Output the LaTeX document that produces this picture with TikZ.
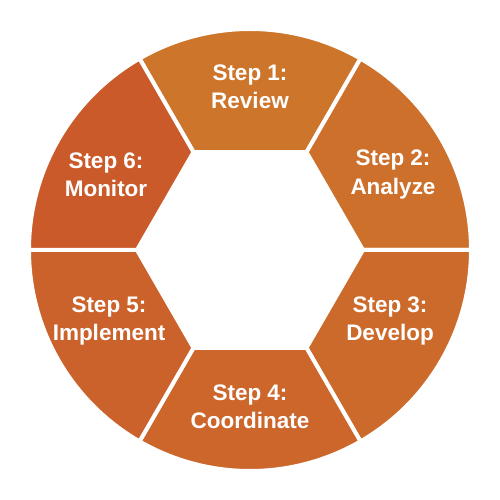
\documentclass[tikz,border=0pt]{standalone}
\usepackage{fontspec}
\setmainfont{Liberation Sans}
\usepackage{tikz}

\definecolor{stepA}{RGB}{205,117,42}
\definecolor{stepB}{RGB}{205,112,43}
\definecolor{stepC}{RGB}{204,106,43}
\definecolor{stepD}{RGB}{204,102,43}
\definecolor{stepE}{RGB}{204,98,43}
\definecolor{stepF}{RGB}{203,90,42}

\begin{document}
\begin{tikzpicture}
                        [
                            segment/.style = {fill=#1, draw=white, line width=0.08cm, line join=miter},
                            steptext/.style = {text=white, align=center, font=\fontsize{12.8}{16.2}\selectfont\bfseries, inner sep=0pt},
                        ]
                        \useasboundingbox (-5,-5) rectangle (5,5);

                        \filldraw[segment=stepA] (60:2.26) -- (60:4.42) arc (60:120:4.42) -- (120:2.26) -- cycle;
                        \filldraw[segment=stepB] (0:2.26) -- (0:4.42) arc (0:60:4.42) -- (60:2.26) -- cycle;
                        \filldraw[segment=stepC] (-60:2.26) -- (-60:4.42) arc (-60:0:4.42) -- (0:2.26) -- cycle;
                        \filldraw[segment=stepD] (-120:2.26) -- (-120:4.42) arc (-120:-60:4.42) -- (-60:2.26) -- cycle;
                        \filldraw[segment=stepE] (180:2.26) -- (180:4.42) arc (180:240:4.42) -- (240:2.26) -- cycle;
                        \filldraw[segment=stepF] (120:2.26) -- (120:4.42) arc (120:180:4.42) -- (180:2.26) -- cycle;

                        \node[steptext] (1t) at (0,3.26)        {Step 1:\\Review};
                        \node[steptext] (2t) at (2.86,1.51)     {Step 2:\\Analyze};
                        \node[steptext] (3t) at (2.80,-1.42)    {Step 3:\\Develop};
                        \node[steptext] (4t) at (0,-3.14)       {Step 4:\\Coordinate};
                        \node[steptext] (5t) at (-2.82,-1.42)   {Step 5:\\Implement};
                        \node[steptext] (6t) at (-2.88,1.51)    {Step 6:\\Monitor};
                    \end{tikzpicture}
\end{document}
